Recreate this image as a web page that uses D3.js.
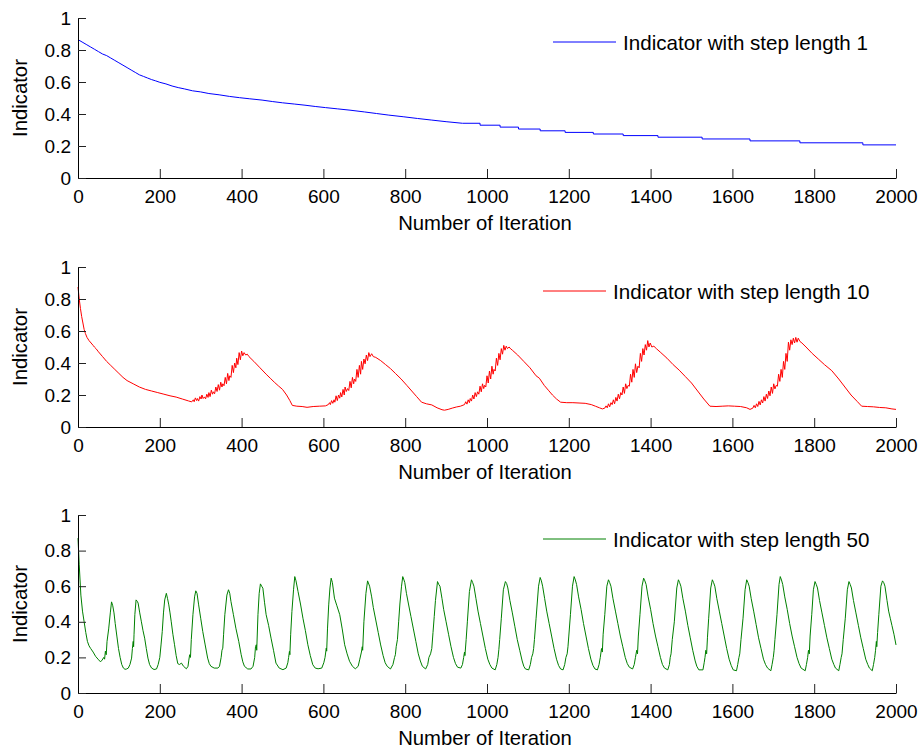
<!DOCTYPE html>
<html>
<head>
<meta charset="utf-8">
<script src="https://cdn.jsdelivr.net/npm/d3@7"></script>
<style>
  body { margin: 0; background: #fff; }
  svg { display: block; font-family: Arial, "Liberation Sans", sans-serif; }
</style>
</head>
<body>
<div id="chart"></div>
<script>
// x ticks / y ticks shared by all three panels
var xTicks = [0, 200, 400, 600, 800, 1000, 1200, 1400, 1600, 1800, 2000];
var yTicks = [0, 0.2, 0.4, 0.6, 0.8, 1];
var seriesNames = ["Indicator with step length 1", "Indicator with step length 10", "Indicator with step length 50"];
var seriesColors = ["#0000ff", "#ff0000", "#008000"];

// step length 1 (tail drawn as a staircase)
var step1 = [[0,0.865],[10,0.85],[20,0.835],[30,0.82],[40,0.805],[50,0.79],[60,0.775],[70,0.765],[80,0.75],[90,0.735],
  [100,0.72],[110,0.705],[120,0.69],[130,0.675],[140,0.66],[150,0.645],[160,0.635],[170,0.625],[180,0.615],[190,0.607],
  [200,0.598],[215,0.588],[230,0.575],[245,0.565],[260,0.557],[280,0.545],[300,0.538],[320,0.528],[345,0.52],[370,0.51],
  [395,0.502],[420,0.495],[450,0.487],[475,0.478],[500,0.47],[530,0.462],[555,0.455],[580,0.447],[605,0.44],[635,0.432],
  [665,0.424],[700,0.413],[730,0.403],[760,0.393],[795,0.383],[830,0.372],[865,0.362],[900,0.352],[940,0.342],[983,0.33],
  [1032,0.318],[1077,0.306],[1130,0.295],[1191,0.285],[1260,0.275],[1333,0.265],[1418,0.255],[1526,0.244],[1643,0.232],
  [1765,0.22],[1919,0.207],[2000,0.207]];
var stepStart = 940;

// step length 10
var step10 = [[0,0.875],[3,0.80],[6,0.74],[9,0.69],[12,0.65],[15,0.61],[18,0.585],[22,0.56],[27,0.54],[32,0.525],[37,0.51],
  [40,0.50],[44,0.49],[50,0.47],[60,0.44],[70,0.41],[80,0.385],[90,0.36],[100,0.335],[110,0.31],[120,0.29],[135,0.27],
  [150,0.25],[165,0.235],[180,0.225],[195,0.215],[210,0.205],[225,0.195],[240,0.187],[255,0.175],[270,0.163],[278,0.157],
  [282,0.17],[284,0.158],[287,0.182],[290,0.165],[292,0.178],[295,0.162],[298,0.19],[301,0.175],[303,0.2],[306,0.178],
  [309,0.188],[312,0.176],[315,0.205],[318,0.185],[320,0.215],[323,0.19],[326,0.23],[329,0.205],[331,0.22],[334,0.208],
  [337,0.25],[340,0.222],[343,0.265],[346,0.23],[349,0.28],[352,0.25],[354,0.27],[357,0.258],[360,0.31],[363,0.27],
  [366,0.335],[369,0.29],[371,0.32],[374,0.31],[377,0.385],[380,0.34],[383,0.4],[386,0.37],[388,0.43],[391,0.39],
  [394,0.465],[397,0.42],[400,0.475],[403,0.445],[406,0.465],[410,0.45],[414,0.455],[418,0.44],
  [430,0.41],[445,0.37],[460,0.33],[470,0.305],[480,0.28],[490,0.257],[500,0.235],[510,0.2],[518,0.165],[524,0.135],
  [535,0.13],[548,0.128],[560,0.123],[575,0.128],[590,0.13],[605,0.132],[612,0.14],
  [615,0.152],[617,0.14],[620,0.165],[623,0.148],[626,0.17],[628,0.155],[631,0.195],[634,0.165],[637,0.2],[640,0.18],
  [642,0.215],[645,0.188],[648,0.235],[651,0.2],[653,0.25],[656,0.222],[659,0.24],[662,0.228],[665,0.285],[668,0.245],
  [671,0.31],[674,0.27],[676,0.3],[679,0.285],[682,0.36],[685,0.31],[688,0.385],[691,0.33],[693,0.41],[696,0.36],
  [699,0.425],[702,0.395],[705,0.45],[708,0.415],[711,0.465],[714,0.44],[718,0.458],[722,0.44],[728,0.435],
  [740,0.415],[752,0.39],[764,0.365],[776,0.335],[790,0.3],[804,0.26],[816,0.225],[828,0.19],[840,0.155],[852,0.145],
  [865,0.138],[878,0.12],[890,0.108],[896,0.105],[905,0.11],[915,0.118],[925,0.125],[935,0.13],[945,0.14],
  [948,0.158],[951,0.143],[954,0.17],[957,0.152],[959,0.178],[962,0.162],[965,0.2],[968,0.175],[971,0.215],[974,0.19],
  [977,0.22],[980,0.205],[983,0.255],[986,0.22],[989,0.27],[992,0.24],[994,0.26],[997,0.25],[1000,0.32],[1003,0.275],
  [1006,0.35],[1009,0.3],[1012,0.38],[1015,0.33],[1017,0.36],[1020,0.35],[1023,0.43],[1026,0.385],[1029,0.46],
  [1032,0.42],[1035,0.49],[1038,0.455],[1041,0.51],[1044,0.48],[1047,0.505],[1050,0.49],[1054,0.5],[1058,0.488],
  [1062,0.48],
  [1075,0.45],[1090,0.41],[1105,0.37],[1120,0.32],[1128,0.305],[1140,0.26],[1150,0.23],[1160,0.2],[1170,0.175],
  [1180,0.155],[1195,0.152],[1210,0.152],[1225,0.15],[1240,0.148],[1255,0.14],[1265,0.13],[1275,0.12],[1282,0.113],
  [1288,0.118],
  [1291,0.132],[1294,0.12],[1297,0.145],[1300,0.126],[1303,0.152],[1306,0.14],[1309,0.17],[1312,0.145],[1315,0.185],
  [1318,0.162],[1321,0.205],[1324,0.176],[1327,0.215],[1330,0.2],[1333,0.25],[1336,0.21],[1339,0.27],[1342,0.24],
  [1345,0.26],[1348,0.255],[1351,0.33],[1354,0.28],[1357,0.36],[1360,0.31],[1363,0.395],[1366,0.34],[1369,0.38],
  [1372,0.37],[1375,0.46],[1378,0.41],[1381,0.49],[1384,0.45],[1387,0.515],[1390,0.48],[1393,0.54],[1396,0.5],
  [1399,0.525],[1403,0.5],[1408,0.505],[1414,0.49],
  [1425,0.465],[1440,0.43],[1455,0.39],[1470,0.355],[1485,0.315],[1500,0.275],[1515,0.225],[1530,0.175],[1545,0.13],
  [1560,0.128],[1575,0.13],[1590,0.132],[1605,0.13],[1620,0.128],[1635,0.12],[1643,0.11],[1650,0.118],
  [1653,0.135],[1656,0.12],[1659,0.145],[1662,0.128],[1665,0.16],[1668,0.138],[1671,0.17],[1674,0.15],[1677,0.19],
  [1680,0.162],[1683,0.205],[1686,0.178],[1689,0.225],[1692,0.195],[1695,0.25],[1698,0.21],[1701,0.27],[1704,0.238],
  [1707,0.26],[1710,0.255],[1713,0.33],[1716,0.285],[1719,0.36],[1722,0.31],[1725,0.41],[1728,0.36],[1731,0.46],
  [1734,0.41],[1737,0.53],[1740,0.48],[1743,0.545],[1746,0.515],[1749,0.555],[1752,0.525],[1755,0.56],[1758,0.53],
  [1761,0.555],[1765,0.535],[1770,0.525],
  [1780,0.5],[1795,0.46],[1810,0.425],[1825,0.39],[1843,0.352],[1860,0.3],[1875,0.25],[1890,0.2],[1905,0.16],[1916,0.13],
  [1930,0.128],[1945,0.126],[1960,0.122],[1975,0.12],[1990,0.113],[2000,0.11]];

// step length 50
var step50 = [[0,0.87],[3,0.72],[7,0.55],[11,0.46],[15,0.40],[19,0.34],[23,0.29],[27,0.265],[31,0.25],[37,0.23],[43,0.206],
  [49,0.19],[55,0.175],[59,0.185],[63,0.2],[65,0.19],[67,0.235],[69,0.215],[71,0.29],[75,0.36],[79,0.45],[82,0.512],
  [85,0.49],[88,0.45],[91,0.39],[95,0.32],[99,0.25],[103,0.2],[107,0.16],[111,0.14],[115,0.133],[119,0.135],[123,0.14],
  [127,0.16],[131,0.196],[133,0.25],[135,0.29],[136,0.26],[137,0.33],[139,0.44],[142,0.523],[145,0.515],[147,0.505],
  [151,0.45],[155,0.40],[159,0.35],[163,0.308],[167,0.25],[171,0.196],[175,0.16],[180,0.14],[186,0.132],[192,0.135],
  [196,0.16],[200,0.2],[203,0.27],[206,0.346],[209,0.45],[212,0.523],[216,0.56],[219,0.53],[222,0.495],[225,0.45],
  [228,0.40],[232,0.33],[236,0.271],[240,0.21],[244,0.165],[248,0.16],[253,0.168],[258,0.15],[265,0.136],
  [269,0.15],[271,0.185],[273,0.215],[275,0.2],[277,0.3],[281,0.44],[285,0.54],[288,0.574],[291,0.56],[295,0.495],
  [300,0.42],[305,0.346],[311,0.27],[317,0.196],[321,0.165],[325,0.15],[333,0.14],[342,0.14],
  [346,0.15],[350,0.2],[352,0.24],[354,0.252],[356,0.33],[359,0.44],[364,0.55],[368,0.58],[371,0.56],[374,0.514],
  [380,0.44],[386,0.364],[393,0.29],[399,0.215],[403,0.175],[407,0.15],[415,0.135],[423,0.135],
  [428,0.15],[432,0.2],[434,0.26],[436,0.271],[437,0.24],[440,0.44],[443,0.56],[446,0.613],[449,0.6],[452,0.589],
  [456,0.51],[460,0.44],[466,0.38],[472,0.308],[478,0.24],[484,0.168],[492,0.14],[501,0.131],[509,0.14],
  [513,0.17],[515,0.2],[517,0.234],[518,0.215],[520,0.33],[523,0.458],[527,0.58],[530,0.654],[533,0.63],[538,0.57],
  [544,0.5],[550,0.42],[556,0.35],[562,0.271],[568,0.21],[574,0.159],[580,0.14],[587,0.136],[596,0.14],
  [601,0.17],[604,0.2],[607,0.252],[608,0.235],[610,0.36],[613,0.495],[616,0.59],[619,0.645],[622,0.62],[627,0.533],
  [633,0.49],[640,0.44],[646,0.36],[652,0.271],[658,0.22],[664,0.178],[671,0.15],[678,0.136],
  [685,0.15],[689,0.19],[693,0.23],[695,0.26],[696,0.24],[699,0.40],[704,0.56],[708,0.63],[713,0.60],[718,0.54],
  [722,0.48],[728,0.41],[734,0.34],[740,0.27],[746,0.21],[751,0.17],[756,0.15],[764,0.135],
  [770,0.16],[774,0.2],[776,0.215],[778,0.26],[781,0.30],[784,0.40],[787,0.50],[791,0.6],[794,0.654],[797,0.635],
  [799,0.62],[803,0.56],[808,0.50],[814,0.43],[820,0.36],[826,0.29],[832,0.22],[837,0.18],[842,0.15],[850,0.135],
  [855,0.16],[858,0.2],[862,0.22],[865,0.25],[868,0.34],[871,0.43],[874,0.52],[879,0.626],[882,0.61],[885,0.60],
  [890,0.53],[894,0.47],[900,0.4],[906,0.33],[912,0.26],[918,0.20],[923,0.165],[928,0.145],[936,0.14],
  [940,0.16],[943,0.2],[945,0.23],[946,0.21],[949,0.3],[952,0.40],[957,0.57],[962,0.636],[965,0.62],[968,0.60],
  [973,0.53],[978,0.46],[984,0.39],[990,0.32],[996,0.25],[1002,0.19],[1007,0.16],[1012,0.14],[1020,0.13],
  [1024,0.16],[1027,0.2],[1029,0.245],[1031,0.3],[1035,0.42],[1040,0.58],[1045,0.626],[1048,0.615],[1051,0.59],
  [1056,0.52],[1062,0.45],[1068,0.375],[1074,0.30],[1080,0.24],[1086,0.18],[1090,0.15],[1094,0.135],[1102,0.13],
  [1106,0.16],[1109,0.2],[1112,0.22],[1114,0.25],[1116,0.3],[1120,0.42],[1126,0.60],[1130,0.649],[1133,0.63],
  [1136,0.60],[1141,0.53],[1146,0.46],[1152,0.39],[1158,0.32],[1164,0.25],[1170,0.19],[1175,0.155],[1180,0.135],
  [1186,0.13],
  [1190,0.16],[1193,0.2],[1196,0.22],[1198,0.26],[1200,0.32],[1204,0.44],[1209,0.60],[1213,0.654],[1216,0.635],
  [1219,0.61],[1224,0.54],[1230,0.47],[1236,0.39],[1242,0.32],[1248,0.25],[1254,0.19],[1259,0.155],[1264,0.135],
  [1270,0.13],
  [1274,0.16],[1277,0.2],[1280,0.25],[1282,0.23],[1284,0.33],[1288,0.44],[1293,0.60],[1297,0.636],[1300,0.62],
  [1303,0.60],[1308,0.53],[1314,0.46],[1320,0.39],[1326,0.32],[1332,0.26],[1338,0.20],[1343,0.165],[1348,0.145],
  [1356,0.135],
  [1360,0.16],[1363,0.2],[1366,0.24],[1368,0.22],[1370,0.32],[1374,0.44],[1379,0.60],[1383,0.645],[1386,0.63],
  [1389,0.61],[1394,0.54],[1400,0.47],[1406,0.39],[1412,0.32],[1418,0.26],[1424,0.20],[1429,0.16],[1434,0.14],
  [1442,0.13],
  [1446,0.16],[1448,0.2],[1450,0.22],[1453,0.3],[1458,0.40],[1464,0.59],[1468,0.636],[1471,0.62],[1474,0.60],
  [1479,0.53],[1485,0.46],[1491,0.38],[1497,0.31],[1503,0.24],[1509,0.18],[1513,0.15],[1518,0.13],[1528,0.13],
  [1531,0.17],[1533,0.2],[1535,0.24],[1537,0.22],[1539,0.31],[1542,0.42],[1547,0.59],[1551,0.636],[1554,0.62],
  [1557,0.60],[1562,0.53],[1568,0.46],[1574,0.39],[1580,0.32],[1586,0.25],[1592,0.19],[1597,0.155],[1602,0.13],
  [1610,0.125],
  [1613,0.16],[1616,0.2],[1618,0.22],[1621,0.3],[1626,0.42],[1631,0.58],[1635,0.636],[1638,0.62],[1641,0.60],
  [1646,0.53],[1652,0.46],[1658,0.385],[1664,0.31],[1670,0.25],[1676,0.19],[1681,0.16],[1686,0.14],[1694,0.125],
  [1697,0.16],[1700,0.2],[1702,0.24],[1704,0.3],[1709,0.44],[1714,0.61],[1717,0.654],[1720,0.635],[1723,0.61],
  [1728,0.54],[1734,0.47],[1740,0.39],[1746,0.32],[1752,0.26],[1758,0.20],[1763,0.165],[1768,0.14],[1778,0.125],
  [1781,0.16],[1784,0.2],[1786,0.24],[1788,0.22],[1790,0.32],[1794,0.44],[1798,0.58],[1802,0.626],[1805,0.61],
  [1808,0.59],[1813,0.52],[1819,0.45],[1825,0.38],[1831,0.31],[1837,0.25],[1843,0.19],[1848,0.16],[1852,0.14],
  [1860,0.125],
  [1863,0.16],[1866,0.2],[1868,0.22],[1871,0.3],[1876,0.42],[1881,0.58],[1885,0.626],[1888,0.61],[1891,0.59],
  [1896,0.52],[1902,0.45],[1908,0.38],[1914,0.31],[1920,0.25],[1926,0.19],[1931,0.16],[1935,0.14],[1942,0.125],
  [1945,0.16],[1948,0.2],[1950,0.24],[1952,0.29],[1953,0.26],[1955,0.34],[1958,0.44],[1963,0.60],[1967,0.63],
  [1970,0.62],[1973,0.60],[1978,0.52],[1982,0.46],[1986,0.42],[1990,0.38],[1995,0.33],[2000,0.27]];

var allSeries = [step1, step10, step50];

var width = 921, height = 751;
var left = 78, right = 896;
// top / bottom pixel of each panel
var panels = [{top: 18, bottom: 178}, {top: 267, bottom: 427}, {top: 515, bottom: 693}];

var svg = d3.select("#chart").append("svg")
  .attr("width", width).attr("height", height);

var x = d3.scaleLinear().domain([0, 2000]).range([left, right]);

panels.forEach(function(p, i) {
  var y = d3.scaleLinear().domain([0, 1]).range([p.bottom, p.top]);
  var g = svg.append("g");

  var line = d3.line()
    .x(function(d) { return x(d[0]); })
    .y(function(d) { return y(d[1]); });

  var pieces;
  if (i == 0) {
    pieces = [
      {data: step1.filter(function(d) { return d[0] <= stepStart; }), curve: d3.curveLinear},
      {data: step1.filter(function(d) { return d[0] >= stepStart; }), curve: d3.curveStepAfter}
    ];
  } else {
    pieces = [{data: allSeries[i], curve: d3.curveLinear}];
  }

  pieces.forEach(function(pc) {
    g.append("path")
      .datum(pc.data)
      .attr("fill", "none")
      .attr("stroke", seriesColors[i])
      .attr("stroke-width", 1)
      .attr("d", line.curve(pc.curve));
  });

  var xAxis = g.append("g")
    .attr("transform", "translate(0," + p.bottom + ")")
    .call(d3.axisBottom(x).tickValues(xTicks).tickSizeInner(-9).tickSizeOuter(0).tickPadding(12)
      .tickFormat(function(d) { return String(d); }));

  var yAxis = g.append("g")
    .attr("transform", "translate(" + left + ",0)")
    .call(d3.axisLeft(y).tickValues(yTicks).tickSizeInner(-8).tickSizeOuter(0).tickPadding(7)
      .tickFormat(function(d) { return String(d); }));

  [xAxis, yAxis].forEach(function(a) {
    a.selectAll("text").attr("font-size", 19).attr("fill", "#000");
    a.attr("font-family", null);
    a.selectAll("line").attr("stroke", "#222");
    a.select(".domain").attr("stroke", "#000");
  });

  g.append("text")
    .attr("x", (left + right) / 2 - 2)
    .attr("y", p.bottom + 52)
    .attr("text-anchor", "middle")
    .attr("font-size", 20.3)
    .text("Number of Iteration");

  g.append("text")
    .attr("transform", "translate(27," + (p.top + p.bottom) / 2 + ") rotate(-90)")
    .attr("text-anchor", "middle")
    .attr("font-size", 20.3)
    .text("Indicator");

  // legend
  var lx = i == 0 ? 553 : 543;
  var ly = p.top + 24;
  g.append("line")
    .attr("x1", lx).attr("x2", lx + 63)
    .attr("y1", ly).attr("y2", ly)
    .attr("stroke", seriesColors[i]);
  g.append("text")
    .attr("x", lx + 70)
    .attr("y", ly + 8)
    .attr("font-size", 20.6)
    .text(seriesNames[i]);
});
</script>
</body>
</html>
